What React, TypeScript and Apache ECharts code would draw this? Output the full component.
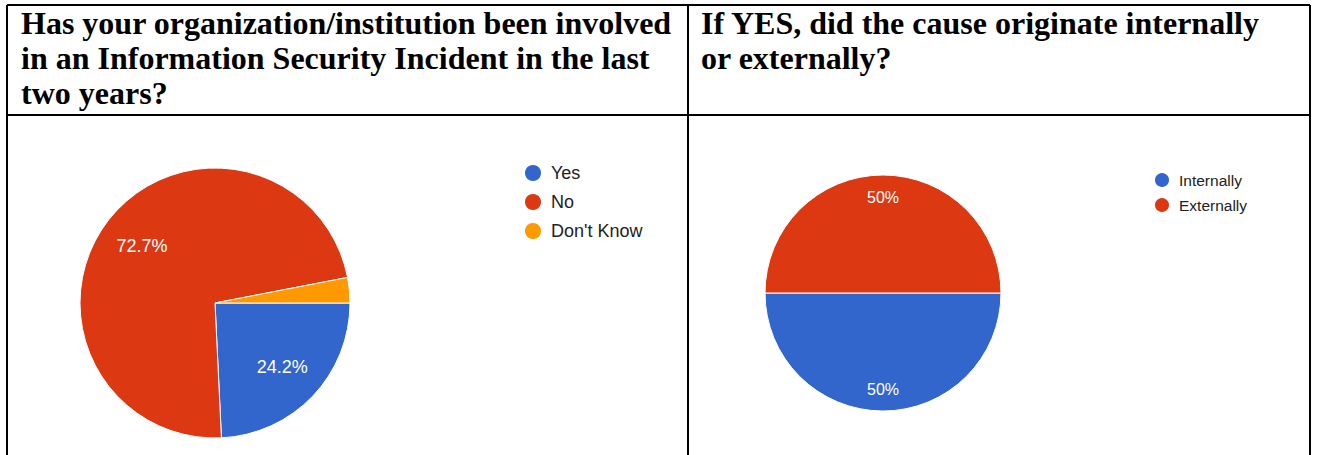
import React, { useEffect, useRef } from "react";
import * as echarts from "echarts";

const headerLeft = [
  "Has your organization/institution been involved",
  "in an Information Security Incident in the last",
  "two years?",
];
const headerRight = ["If YES, did the cause originate internally", "or externally?"];

const pie1Names = ["Yes", "No", "Don't Know"];
const pie1Values = [8, 24, 1];
const pie2Names = ["Internally", "Externally"];
const pie2Values = [4, 4];

const BLUE = "#3366CC";
const RED = "#DC3912";
const ORANGE = "#FF9900";
const pie1Colors = [BLUE, RED, ORANGE];
const pie2Colors = [BLUE, RED];

const SANS = '"Liberation Sans", Arial, sans-serif';
const SERIF = '"Liberation Serif", "Times New Roman", serif';

export default function App() {
  const ref = useRef<HTMLDivElement>(null);
  useEffect(() => {
    if (!ref.current) return;
    const chart = echarts.init(ref.current, null, { renderer: "svg" });
    const d1 = pie1Names.map((n, i) => ({ name: n, value: pie1Values[i], itemStyle: { color: pie1Colors[i] } }));
    const d2 = pie2Names.map((n, i) => ({ name: n, value: pie2Values[i], itemStyle: { color: pie2Colors[i] } }));
    const fmtFor = (values: number[]) => {
      const total = values.reduce((a, b) => a + b, 0);
      return (p: any) => {
        const pct = (p.value / total) * 100;
        return pct < 5 ? "" : Number(pct.toFixed(1)) + "%";
      };
    };
    const base = {
      type: "pie",
      startAngle: 0,
      clockwise: true,
      animation: false,
      labelLine: { show: false },
      emphasis: { disabled: true },
    };
    const line = (x1: number, y1: number, x2: number, y2: number) => ({
      type: "line",
      silent: true,
      shape: { x1, y1, x2, y2 },
      style: { stroke: "#000", lineWidth: 2 },
    });
    const headerText = (x: number, lines: string[]) => ({
      type: "text",
      x,
      y: 5,
      silent: true,
      style: {
        text: lines.join("\n"),
        fontSize: 32,
        fontWeight: "bold",
        fontFamily: SERIF,
        lineHeight: 35,
        fill: "#000",
        textVerticalAlign: "top",
        verticalAlign: "top",
      },
    });
    chart.setOption({
      animation: false,
      backgroundColor: "#fff",
      graphic: [
        line(7, 5, 1310, 5),
        line(7, 5, 7, 460),
        line(1310, 5, 1310, 460),
        line(688, 5, 688, 460),
        line(7, 115, 1310, 115),
        headerText(21, headerLeft),
        headerText(701, headerRight),
      ],
      legend: [
        {
          orient: "vertical",
          left: 523,
          top: 163,
          padding: 0,
          itemWidth: 26,
          itemHeight: 18,
          itemGap: 9,
          icon: "circle",
          selectedMode: false,
          data: pie1Names.map((n, i) => ({ name: n, itemStyle: { color: pie1Colors[i] } })),
          textStyle: { fontSize: 18, lineHeight: 18, color: "#222", fontFamily: SANS },
        },
        {
          orient: "vertical",
          left: 1153,
          top: 171,
          padding: 0,
          itemWidth: 24,
          itemHeight: 16,
          itemGap: 7,
          icon: "circle",
          selectedMode: false,
          data: pie2Names.map((n, i) => ({ name: n, itemStyle: { color: pie2Colors[i] } })),
          textStyle: { fontSize: 15.5, lineHeight: 16, color: "#222", fontFamily: SANS },
        },
      ],
      series: [
        {
          ...base,
          name: "q1",
          center: [215, 303],
          radius: [0, 135],
          itemStyle: { borderColor: "#fff", borderWidth: 1 },
          label: { show: false },
          data: d1,
        },
        {
          ...base,
          name: "q2",
          center: [883, 293],
          radius: [0, 118],
          itemStyle: { borderColor: "#fff", borderWidth: 1 },
          label: { show: false },
          data: d2,
        },
        {
          ...base,
          name: "q1labels",
          silent: true,
          center: [215, 303],
          radius: [0, 180],
          itemStyle: { color: "rgba(0,0,0,0)", borderWidth: 0 },
          label: { show: true, position: "inside", formatter: fmtFor(pie1Values), color: "#fff", fontSize: 18, fontFamily: SANS },
          data: pie1Names.map((n, i) => ({ name: n, value: pie1Values[i], itemStyle: { color: "rgba(0,0,0,0)" } })),
        },
        {
          ...base,
          name: "q2labels",
          silent: true,
          center: [883, 293],
          radius: [0, 186],
          itemStyle: { color: "rgba(0,0,0,0)", borderWidth: 0 },
          label: { show: true, position: "inside", formatter: fmtFor(pie2Values), color: "#fff", fontSize: 16, fontFamily: SANS },
          data: pie2Names.map((n, i) => ({ name: n, value: pie2Values[i], itemStyle: { color: "rgba(0,0,0,0)" } })),
        },
      ],
    });
    return () => chart.dispose();
  }, []);
  return (
    <div
      ref={ref}
      style={{ position: "fixed", left: 0, top: 0, width: 1317, height: 455, background: "#fff" }}
    />
  );
}
